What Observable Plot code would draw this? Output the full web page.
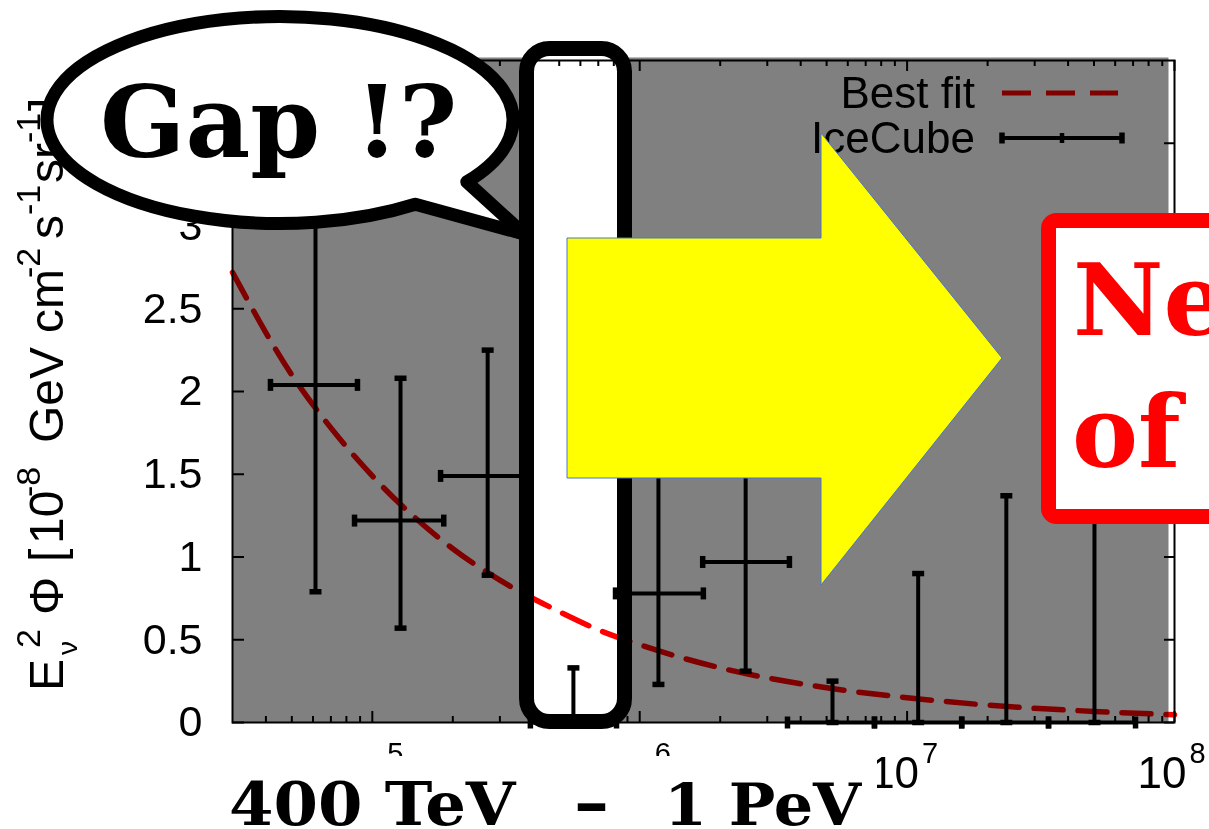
<!DOCTYPE html>
<html>
<head>
<meta charset="utf-8">
<script src="https://cdn.jsdelivr.net/npm/d3@7"></script>
<script src="https://cdn.jsdelivr.net/npm/@observablehq/plot@0.6"></script>
<style>
  html, body { margin: 0; padding: 0; background: #fff; }
  svg { display: block; }
</style>
</head>
<body>
<div id="chart"></div>
<script>
// ---------------- data ----------------
// IceCube bins: energy in GeV, E^2 Phi in 1e-8 GeV cm^-2 s^-1 sr^-1
const binCenter = [6.13e4, 1.275e5, 2.70e5, 5.65e5, 1.175e6, 2.49e6, 5.26e6, 1.10e7, 2.35e7, 5.02e7];
const binLow    = [4.16e4, 8.58e4, 1.80e5, 3.90e5, 8.12e5, 1.72e6, 3.57e6, 7.55e6, 1.60e7, 3.38e7];
const binHigh   = [8.80e4, 1.85e5, 3.90e5, 8.19e5, 1.73e6, 3.63e6, 7.55e6, 1.60e7, 3.38e7, 7.15e7];
const fluxValue = [2.04, 1.22, 1.49, 0, 0.78, 0.97, 0, 0, 0, 0];
const fluxLow   = [0.79, 0.57, 0.89, 0, 0.23, 0.31, 0, 0, 0, 0];
const fluxHigh  = [3.40, 2.08, 2.25, 0.33, 1.65, 1.95, 0.25, 0.90, 1.37, 2.50];

// Best fit curve, read at these energies
const fitEnergy = [3e4, 5e4, 7e4, 1e5, 2e5, 3e5, 5e5, 7e5, 1e6, 2e6, 5e6, 1e7, 2e7, 5e7, 1e8];
const fitFlux   = [2.72, 2.10, 1.78, 1.49, 1.05, 0.86, 0.67, 0.56, 0.47, 0.33, 0.21, 0.15, 0.105, 0.067, 0.047];

// axes
const xMajorTicks = [1e5, 1e6, 1e7, 1e8];
const xMajorExponents = ["5", "6", "7", "8"];
const xLabelBaseShown = [false, false, true, true]; // the "10" of 10^5 and 10^6 lies under the caption
const yTicks = [0, 0.5, 1, 1.5, 2, 2.5, 3, 3.5];
const yTickLabels = ["0", "0.5", "1", "1.5", "2", "2.5", "3"];

// texts
const legendLabels = ["Best fit", "IceCube"];
const bubbleText = "Gap !?";
const boxTexts = ["Ne", "of"];
const bottomTextParts = ["400 TeV ", "\u2013 ", "1 PeV"];

// ---------------- layout ----------------
const W = 1209, H = 829, mL = 232, mR = 35, mT = 60, mB = 107;
const innerW = W - mL - mR, innerH = H - mT - mB;
const SANS = "'Liberation Sans', Arial, Helvetica, sans-serif";
const SLAB = "'DejaVu Serif', serif";

const xLog = d3.scaleLog().domain([3e4, 1e8]);
const xMinorTicks = xLog.ticks().filter(t => t > 3e4 && Math.abs(Math.log10(t) - Math.round(Math.log10(t))) > 1e-6);

const idx = d3.range(binCenter.length);
const capsV = idx.flatMap(i => [{x: binCenter[i], y: fluxLow[i]}, {x: binCenter[i], y: fluxHigh[i]}]);
const capsH = idx.flatMap(i => [{x: binLow[i], y: fluxValue[i]}, {x: binHigh[i], y: fluxValue[i]}]);
const fit = fitEnergy.map((e, i) => ({e, f: fitFlux[i]}));

const hLine = {draw(ctx, size) { const r = Math.sqrt(size / Math.PI); ctx.moveTo(-r, 0); ctx.lineTo(r, 0); }};
const vLine = {draw(ctx, size) { const r = Math.sqrt(size / Math.PI); ctx.moveTo(0, -r); ctx.lineTo(0, r); }};

function el(tag, attrs, text) {
  const n = document.createElementNS("http://www.w3.org/2000/svg", tag);
  for (const [k, v] of Object.entries(attrs || {})) n.setAttribute(k, v);
  if (text != null) n.textContent = text;
  return n;
}

const gapBox = {x: 526.5, y: 48.5, width: 98, height: 673, rx: 23};

function gapFill() {
  return el("rect", {...gapBox, fill: "white"});
}
function gapStroke() {
  return el("rect", {...gapBox, fill: "none", stroke: "black", "stroke-width": 15});
}
function bottomBackground() {
  return el("rect", {x: 222, y: 756, width: 655, height: 73, fill: "white"});
}
function legend() {
  const g = el("g", {});
  g.appendChild(el("text", {x: 975, y: 108, "text-anchor": "end", "font-family": SANS, "font-size": 44, fill: "black"}, legendLabels[0]));
  g.appendChild(el("text", {x: 975, y: 153, "text-anchor": "end", "font-family": SANS, "font-size": 44, fill: "black"}, legendLabels[1]));
  g.appendChild(el("line", {x1: 1002, x2: 1118, y1: 93, y2: 93, stroke: "#800000", "stroke-width": 5, "stroke-dasharray": "29,15"}));
  g.appendChild(el("line", {x1: 1002, x2: 1122, y1: 138, y2: 138, stroke: "black", "stroke-width": 4}));
  for (const cx of [1002, 1122]) g.appendChild(el("line", {x1: cx, x2: cx, y1: 132.5, y2: 143.5, stroke: "black", "stroke-width": 5.5}));
  g.appendChild(el("line", {x1: 1062, x2: 1062, y1: 133, y2: 143, stroke: "black", "stroke-width": 4.5}));
  return g;
}
function yLabel() {
  const t = el("text", {transform: "translate(63,691) rotate(-90)", "text-anchor": "start", "font-family": SANS, "font-size": 48, fill: "black"});
  const parts = [
    ["E", 0, 0, 48], ["\u03bd", 36, 14, 28], ["2", 43, -23, 34], ["\u03a6", 76, 0, 48],
    ["[", 129, 0, 48], ["10", 147, 0, 48], ["-8", 194, -23, 34],
    ["GeV", 248, 0, 48], ["cm", 358, 0, 48], ["-2", 413, -23, 34],
    ["s", 452, 0, 48], ["-1", 476, -23, 34], ["sr", 508, 0, 48], ["-1", 548, -23, 34], ["]", 580, 0, 48]
  ];
  for (const [s, x, y, fs] of parts) t.appendChild(el("tspan", {x, y, "font-size": fs, "text-anchor": "start"}, s));
  return t;
}
function bubble() {
  const g = el("g", {});
  const cx = 280, cy = 120, rx = 233, ry = 103.5;
  const A = [cx + rx * Math.cos(36.7 * Math.PI / 180), cy + ry * Math.sin(36.7 * Math.PI / 180)];
  const B = [cx + rx * Math.cos(54.5 * Math.PI / 180), cy + ry * Math.sin(54.5 * Math.PI / 180)];
  const T = [524, 234];
  const d = `M${B} L${T} L${A} A${rx},${ry} 0 1 0 ${B} Z`;
  g.appendChild(el("path", {d, fill: "white", stroke: "black", "stroke-width": 13, "stroke-linejoin": "round"}));
  g.appendChild(el("text", {x: 100, y: 157, "text-anchor": "start", "font-family": SLAB, "font-weight": "bold", "font-size": 100, fill: "black"}, bubbleText));
  return g;
}
function arrow() {
  const pts = [[567, 238], [821, 238], [821, 133], [1002, 358], [821, 585], [821, 478], [567, 478]];
  return el("polygon", {points: pts.map(p => p.join(",")).join(" "), fill: "#ffff00", stroke: "#4a76c4", "stroke-width": 1});
}
function redBox() {
  const g = el("g", {});
  g.appendChild(el("rect", {x: 1048.5, y: 220.5, width: 220, height: 296, rx: 8, fill: "white", stroke: "#ff0000", "stroke-width": 15}));
  g.appendChild(el("text", {x: 1073, y: 335, "text-anchor": "start", "font-family": SLAB, "font-weight": "bold", "font-size": 99, fill: "#ff0000"}, boxTexts[0]));
  g.appendChild(el("text", {x: 1072, y: 467, "text-anchor": "start", "font-family": SLAB, "font-weight": "bold", "font-size": 99, fill: "#ff0000"}, boxTexts[1]));
  return g;
}
function bottomLabel() {
  const t = el("text", {x: 0, y: 0, transform: "translate(0,825) scale(1,0.93)", "text-anchor": "start", "font-family": SLAB, "font-weight": "bold", "font-size": 64, fill: "black"});
  t.appendChild(el("tspan", {x: 229, y: 0, "text-anchor": "start"}, bottomTextParts[0]));
  t.appendChild(el("tspan", {x: 574, y: 0, "text-anchor": "start", "font-size": 70}, bottomTextParts[1]));
  t.appendChild(el("tspan", {x: 664, y: 0, "text-anchor": "start", "font-size": 62}, bottomTextParts[2]));
  return t;
}

const chart = Plot.plot({
  width: W, height: H,
  marginLeft: mL, marginRight: mR, marginTop: mT, marginBottom: mB,
  style: {background: "white", fontFamily: SANS, overflow: "visible"},
  x: {type: "log", domain: [3e4, 1e8], axis: null},
  y: {domain: [0, 4], axis: null},
  marks: [
    Plot.frame({fill: "#808080", insetRight: 6, insetTop: -3}),
    gapFill,
    // best fit
    Plot.line(fit, {x: "e", y: "f", stroke: "#ff0000", strokeWidth: 5.5, strokeDasharray: "29,15", curve: "monotone-x", mixBlendMode: "multiply"}),
    // IceCube error bars
    Plot.ruleX(idx, {x: i => binCenter[i], y1: i => fluxLow[i], y2: i => fluxHigh[i], stroke: "black", strokeWidth: 4}),
    Plot.ruleY(idx, {y: i => fluxValue[i], x1: i => binLow[i], x2: i => binHigh[i], stroke: "black", strokeWidth: 4}),
    Plot.dot(capsV, {x: "x", y: "y", symbol: hLine, r: 6, stroke: "black", strokeWidth: 5.5, fill: "none"}),
    Plot.dot(capsH, {x: "x", y: "y", symbol: vLine, r: 6, stroke: "black", strokeWidth: 5.5, fill: "none"}),
    // ticks (inward)
    Plot.ruleX(xMajorTicks, {x: d => d, insetTop: innerH - 11, stroke: "black", strokeWidth: 2}),
    Plot.ruleX(xMinorTicks, {x: d => d, insetTop: innerH - 6, stroke: "black", strokeWidth: 2}),
    Plot.ruleX(xMajorTicks, {x: d => d, insetBottom: innerH - 11, stroke: "black", strokeWidth: 2}),
    Plot.ruleX(xMinorTicks, {x: d => d, insetBottom: innerH - 6, stroke: "black", strokeWidth: 2}),
    Plot.ruleY(yTicks, {y: d => d, insetRight: innerW - 12, stroke: "black", strokeWidth: 2}),
    Plot.ruleY(yTicks, {y: d => d, insetLeft: innerW - 10, stroke: "black", strokeWidth: 2}),
    Plot.frame({stroke: "black", strokeWidth: 2}),
    // tick labels
    Plot.text(yTickLabels, {y: d => +d, text: d => d, frameAnchor: "left", dx: -30, textAnchor: "end", lineAnchor: "middle", fontSize: 43, fill: "black"}),
    Plot.text(xMajorTicks.filter((d, i) => xLabelBaseShown[i]), {x: d => d, frameAnchor: "bottom", text: () => "10", textAnchor: "end", lineAnchor: "bottom", dx: 12, dy: 65, fontSize: 44, fill: "black"}),
    Plot.text(xMajorTicks, {x: d => d, frameAnchor: "bottom", text: (d, i) => xMajorExponents[i], textAnchor: "start", lineAnchor: "bottom", dx: 15, dy: 40, fontSize: 29, fill: "black"}),
    yLabel,
    legend,
    bottomBackground,
    bottomLabel,
    gapStroke,
    bubble,
    arrow,
    redBox
  ]
});

// make sure the fit line multiplies with the grey backdrop
chart.querySelectorAll('g[aria-label="line"]').forEach(g => g.style.mixBlendMode = "multiply");
document.getElementById("chart").appendChild(chart);
</script>
</body>
</html>
